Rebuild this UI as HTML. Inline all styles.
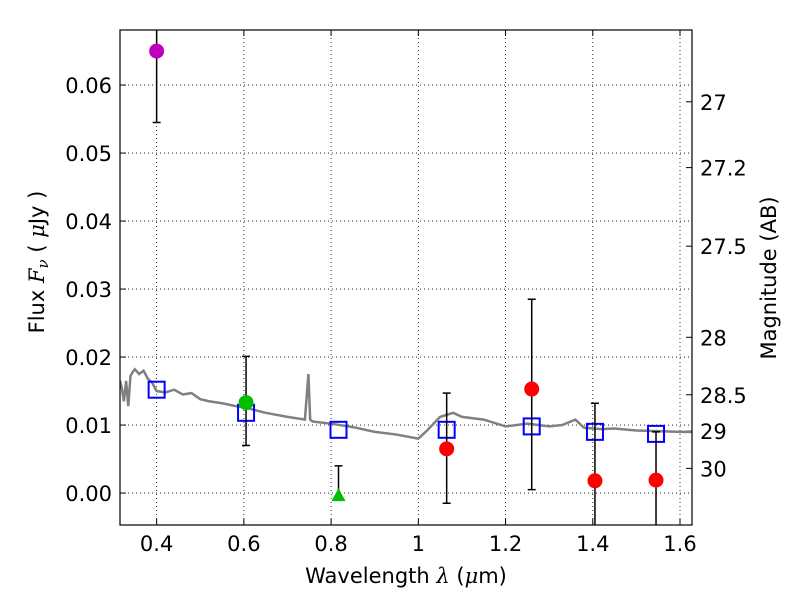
<!DOCTYPE html>
<html><head><meta charset="utf-8"><style>
body{margin:0;background:#fff;}
text{font-family:"DejaVu Sans","Liberation Sans",sans-serif;}
</style></head><body>
<svg id="chart" width="800" height="600" xmlns="http://www.w3.org/2000/svg"></svg>
<script>
const xTicks=[0.4,0.6,0.8,1,1.2,1.4,1.6];
const xTickLabels=["0.4","0.6","0.8","1","1.2","1.4","1.6"];
const yTicks=[0,0.01,0.02,0.03,0.04,0.05,0.06];
const yTickLabels=["0.00","0.01","0.02","0.03","0.04","0.05","0.06"];
const magTicks=[27,27.2,27.5,28,28.5,29,30];
const magTickLabels=["27","27.2","27.5","28","28.5","29","30"];
const specX=[0.316,0.32,0.325,0.33,0.335,0.34,0.345,0.35,0.36,0.37,0.38,0.39,0.4,0.42,0.44,0.46,0.48,0.5,0.52,0.55,0.58,0.6,0.65,0.7,0.74,0.748,0.752,0.756,0.76,0.8,0.85,0.9,0.95,1.0,1.02,1.05,1.08,1.1,1.15,1.2,1.25,1.3,1.33,1.36,1.38,1.42,1.45,1.5,1.55,1.6,1.63];
const specY=[0.0165,0.0155,0.0135,0.0165,0.0128,0.0172,0.0178,0.0182,0.0175,0.018,0.0168,0.0162,0.015,0.0148,0.0152,0.0145,0.0147,0.0138,0.0135,0.0132,0.0128,0.0126,0.0118,0.0112,0.0108,0.0175,0.0108,0.0106,0.0105,0.0102,0.0097,0.009,0.0086,0.008,0.0092,0.0112,0.0118,0.0112,0.0108,0.0098,0.0102,0.0098,0.01,0.0108,0.0096,0.0094,0.0095,0.0092,0.0091,0.009,0.009];
const modelX=[0.4,0.605,0.817,1.065,1.26,1.405,1.545];
const modelY=[0.0152,0.0118,0.0093,0.0093,0.0098,0.009,0.0087];
const obsX=[0.4,0.605,1.065,1.26,1.405,1.545];
const obsY=[0.065,0.0133,0.0065,0.0153,0.0018,0.0019];
const obsHi=[0.072,0.0201,0.0147,0.0285,0.0132,0.009];
const obsLo=[0.0545,0.007,-0.0015,0.0005,-0.01,-0.01];
const obsColors=["#bf00bf","#00bf00","red","red","red","red"];
const limX=[0.817];const limY=[-0.0003];const limHi=[0.004];const limLo=[0.0];
const L=120,R=692,T=30,B=525;
const x0=0.316,x1=1.6275,y0=-0.0047,y1=0.0681;
const X=v=>L+(v-x0)/(x1-x0)*(R-L);
const Y=v=>B-(v-y0)/(y1-y0)*(B-T);
const magY=m=>Y(Math.pow(10,(23.9-m)/2.5));
const svg=document.getElementById('chart');const NS='http://www.w3.org/2000/svg';
function mk(tag,attrs,parent){const e=document.createElementNS(NS,tag);for(const k in attrs)e.setAttribute(k,attrs[k]);(parent||svg).appendChild(e);return e;}
const clip=mk('clipPath',{id:'pc'});mk('rect',{x:L,y:T,width:R-L,height:B-T},clip);
const grid=mk('g',{});

xTicks.forEach((t,i)=>{const x=X(t);
 mk('line',{x1:x,x2:x,y1:T,y2:B,stroke:'#000','stroke-dasharray':'1,3','stroke-width':0.8},grid);
 mk('line',{x1:x,x2:x,y1:B,y2:B-6,stroke:'#000'});mk('line',{x1:x,x2:x,y1:T,y2:T+6,stroke:'#000'});
 const tx=mk('text',{x:x,y:B+26,'font-size':21,'text-anchor':'middle'});tx.textContent=xTickLabels[i];
 });
yTicks.forEach((t,i)=>{const y=Y(t);
 mk('line',{x1:L,x2:R,y1:y,y2:y,stroke:'#000','stroke-dasharray':'1,3','stroke-width':0.8},grid);
 mk('line',{x1:L,x2:L+6,y1:y,y2:y,stroke:'#000'});
 const tx=mk('text',{x:L-8,y:y+8,'font-size':21,'text-anchor':'end'});tx.textContent=yTickLabels[i];
 });
magTicks.forEach((m,i)=>{const y=magY(m);
 mk('line',{x1:R,x2:R-6,y1:y,y2:y,stroke:'#000'});
 const tx=mk('text',{x:R+8,y:y+8,'font-size':21});tx.textContent=magTickLabels[i];
 });
const g=mk('g',{'clip-path':'url(#pc)'});
const sp=mk('polyline',{points:specX.map((v,i)=>X(v)+','+Y(specY[i])).join(' '),fill:'none',stroke:'#808080','stroke-width':2.5},g);

modelX.forEach((v,i)=>{const r=mk('rect',{x:X(v)-8,y:Y(modelY[i])-8,width:16,height:16,fill:'none',stroke:'#0000ff','stroke-width':2},g);
 });
obsX.forEach((v,i)=>{const x=X(v);
 mk('line',{x1:x,x2:x,y1:Y(obsHi[i]),y2:Y(obsLo[i]),stroke:'#000','stroke-width':1.5},g);
 mk('line',{x1:x-4,x2:x+4,y1:Y(obsHi[i]),y2:Y(obsHi[i]),stroke:'#000','stroke-width':1.5},g);
 mk('line',{x1:x-4,x2:x+4,y1:Y(obsLo[i]),y2:Y(obsLo[i]),stroke:'#000','stroke-width':1.5},g);
 const c=mk('circle',{cx:x,cy:Y(obsY[i]),r:7.5,fill:obsColors[i]},g);
 });
limX.forEach((v,i)=>{const x=X(v),y=Y(limY[i]);
 mk('line',{x1:x,x2:x,y1:Y(limHi[i]),y2:Y(limLo[i]),stroke:'#000','stroke-width':1.5},g);
 mk('line',{x1:x-4,x2:x+4,y1:Y(limHi[i]),y2:Y(limHi[i]),stroke:'#000','stroke-width':1.5},g);
 const p=mk('polygon',{points:`${x},${y-7} ${x-7},${y+6} ${x+7},${y+6}`,fill:'#00bf00'},g);
 });
const fr=mk('rect',{x:L,y:T,width:R-L,height:B-T,fill:'none',stroke:'#000','stroke-width':1.2});

</script>
<svg style="position:absolute;left:0;top:0" width="800" height="600">
<text x="406" y="583" font-size="21" text-anchor="middle" font-family="DejaVu Sans, sans-serif">Wavelength  <tspan font-style="italic" font-family="DejaVu Serif, serif">λ</tspan> (<tspan font-style="italic" font-family="DejaVu Serif, serif">μ</tspan>m)</text>
<text transform="translate(44,262) rotate(-90)" font-size="21" text-anchor="middle" font-family="DejaVu Sans, sans-serif">Flux  <tspan font-style="italic" font-family="DejaVu Serif, serif">F</tspan><tspan font-style="italic" font-size="15" dy="4" font-family="DejaVu Serif, serif">ν</tspan><tspan dy="-4">  ( </tspan><tspan font-style="italic" font-family="DejaVu Serif, serif">μ</tspan>Jy )</text>
<text transform="translate(776,278) rotate(-90)" font-size="21" text-anchor="middle" font-family="DejaVu Sans, sans-serif">Magnitude (AB)</text>
</svg>
</body></html>
